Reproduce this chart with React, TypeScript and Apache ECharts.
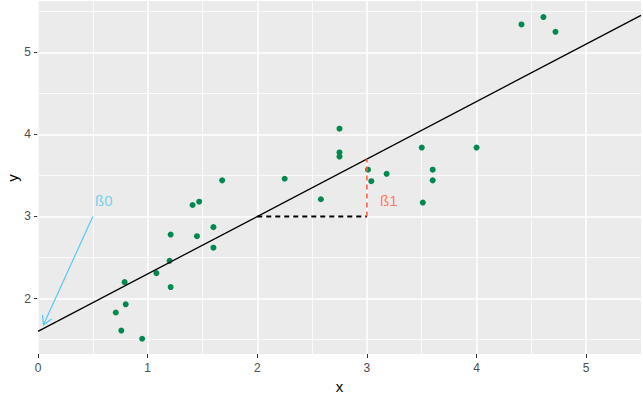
import React, { useEffect, useRef } from "react";
import * as echarts from "echarts";

// Observed points (x, y)
const pointsX = [0.71, 0.76, 0.79, 0.80, 0.95, 1.08, 1.20, 1.21, 1.21, 1.41, 1.45, 1.47, 1.60, 1.60, 1.68, 2.25, 2.58, 2.75, 2.75, 2.75, 3.01, 3.04, 3.18, 3.50, 3.51, 3.60, 3.60, 4.00, 4.41, 4.61, 4.72];
const pointsY = [1.83, 1.61, 2.20, 1.93, 1.51, 2.31, 2.46, 2.78, 2.14, 3.14, 2.76, 3.18, 2.87, 2.62, 3.44, 3.46, 3.21, 4.07, 3.78, 3.73, 3.57, 3.43, 3.52, 3.84, 3.17, 3.57, 3.44, 3.84, 5.34, 5.43, 5.25];

// Fitted line endpoints
const fitLine = [[0, 1.6], [5.5, 5.45]];
// Run (black dashed) and rise (red dashed)
const runSeg = [[2, 3], [3, 3]];
const riseSeg = [[3, 3], [3, 3.7]];
// Arrow for intercept: [x0, y0, x1, y1]
const arrowSeg = [0.5, 3.0, 0.05, 1.68];
// Annotation labels
const labelB0 = { x: 0.6, y: 3.2, text: "ß0" };
const labelB1 = { x: 3.2, y: 3.2, text: "ß1" };

// Axis ticks & grid lines
const xTicks = [0, 1, 2, 3, 4, 5];
const yTicks = [2, 3, 4, 5];
const xMinor = [0.5, 1.5, 2.5, 3.5, 4.5, 5.5];
const yMinor = [1.5, 2.5, 3.5, 4.5, 5.5];
const xRange = [0, 5.5];
const yRange = [1.3245, 5.6255];

const FONT = "Liberation Sans, Arial, Helvetica, sans-serif";
const BLUE = "#5AC8F0";
const RED = "#FF5E45";

export default function App() {
  const ref = useRef<HTMLDivElement>(null);
  useEffect(() => {
    document.body.style.margin = "0";
    const chart = echarts.init(ref.current!, null, { renderer: "svg" });
    const gridLines: any[] = [];
    xTicks.forEach((v) => gridLines.push({ xAxis: v, lineStyle: { width: 1.5 } }));
    yTicks.forEach((v) => gridLines.push({ yAxis: v, lineStyle: { width: 1.5 } }));
    xMinor.forEach((v) => gridLines.push({ xAxis: v, lineStyle: { width: 0.8 } }));
    yMinor.forEach((v) => gridLines.push({ yAxis: v, lineStyle: { width: 0.8 } }));

    const axisCommon = {
      type: "value" as const,
      axisLine: { show: false },
      axisTick: { show: true, length: 4, lineStyle: { color: "#333333", width: 1 } },
      splitLine: { show: false },
      nameTextStyle: { color: "#000000", fontSize: 15, fontFamily: FONT },
    };

    chart.setOption({
      animation: false,
      grid: {
        left: 38,
        right: 2,
        top: 1,
        bottom: 44,
        show: true,
        backgroundColor: "#EBEBEB",
        borderWidth: 0,
        containLabel: false,
        outerBoundsMode: "none",
      },
      graphic: [
        {
          type: "text",
          x: 12,
          y: 178,
          rotation: Math.PI / 2,
          style: {
            text: "y",
            fill: "#000000",
            fontSize: 15,
            fontFamily: FONT,
            align: "center",
            verticalAlign: "middle",
          },
        },
      ],
      xAxis: {
        ...axisCommon,
        min: xRange[0],
        max: xRange[1],
        name: "x",
        nameLocation: "middle",
        nameGap: 24,
        axisTick: { ...axisCommon.axisTick, customValues: xTicks },
        axisLabel: {
          customValues: xTicks,
          color: "#4D4D4D",
          fontSize: 12,
          fontFamily: FONT,
          margin: 8,
        },
      },
      yAxis: {
        ...axisCommon,
        min: yRange[0],
        max: yRange[1],
        axisTick: { ...axisCommon.axisTick, customValues: yTicks },
        axisLabel: {
          customValues: yTicks,
          color: "#4D4D4D",
          fontSize: 12,
          fontFamily: FONT,
          margin: 7,
        },
      },
      series: [
        {
          type: "line",
          data: [fitLine[0]],
          showSymbol: false,
          lineStyle: { width: 0 },
          z: 1,
          silent: true,
          markLine: {
            silent: true,
            symbol: "none",
            z: 1,
            label: { show: false },
            lineStyle: { color: "#FFFFFF", type: "solid", opacity: 1 },
            emphasis: { disabled: true },
            data: gridLines,
          },
        },
        {
          type: "scatter",
          data: pointsX.map((x, i) => [x, pointsY[i]]),
          symbolSize: 6,
          itemStyle: { color: "#00894F", opacity: 1 },
          z: 3,
        },
        {
          type: "line",
          data: fitLine,
          showSymbol: false,
          lineStyle: { color: "#000000", width: 1.3 },
          z: 4,
        },
        {
          type: "line",
          data: runSeg,
          showSymbol: false,
          lineStyle: { color: "#000000", width: 2, type: [5, 4] },
          z: 4,
        },
        {
          type: "line",
          data: riseSeg,
          showSymbol: false,
          lineStyle: { color: RED, width: 1.6, type: [5, 4] },
          z: 4,
        },
        {
          type: "custom",
          z: 4,
          silent: true,
          data: [arrowSeg],
          renderItem: (params: any, api: any) => {
            const p0 = api.coord([api.value(0), api.value(1)]);
            const p1 = api.coord([api.value(2), api.value(3)]);
            const ang = Math.atan2(p0[1] - p1[1], p0[0] - p1[0]);
            const len = 10;
            const half = Math.PI / 6;
            const a = [p1[0] + len * Math.cos(ang + half), p1[1] + len * Math.sin(ang + half)];
            const b = [p1[0] + len * Math.cos(ang - half), p1[1] + len * Math.sin(ang - half)];
            const style = { stroke: BLUE, lineWidth: 1.2, fill: "none" };
            return {
              type: "group",
              children: [
                { type: "line", shape: { x1: p0[0], y1: p0[1], x2: p1[0], y2: p1[1] }, style },
                { type: "polyline", shape: { points: [a, p1, b] }, style },
              ],
            };
          },
        },
        {
          type: "scatter",
          data: [[labelB0.x, labelB0.y]],
          symbolSize: 0,
          z: 5,
          label: {
            show: true,
            position: "inside",
            formatter: labelB0.text,
            color: BLUE,
            fontSize: 15,
            fontFamily: FONT,
          },
        },
        {
          type: "scatter",
          data: [[labelB1.x, labelB1.y]],
          symbolSize: 0,
          z: 5,
          label: {
            show: true,
            position: "inside",
            formatter: labelB1.text,
            color: RED,
            fontSize: 15,
            fontFamily: FONT,
          },
        },
      ],
    });
    return () => chart.dispose();
  }, []);
  return (
    <div style={{ position: "fixed", left: 0, top: 0, width: 643, height: 398, background: "#FFFFFF" }}>
      <div ref={ref} style={{ width: 643, height: 398 }} />
    </div>
  );
}
